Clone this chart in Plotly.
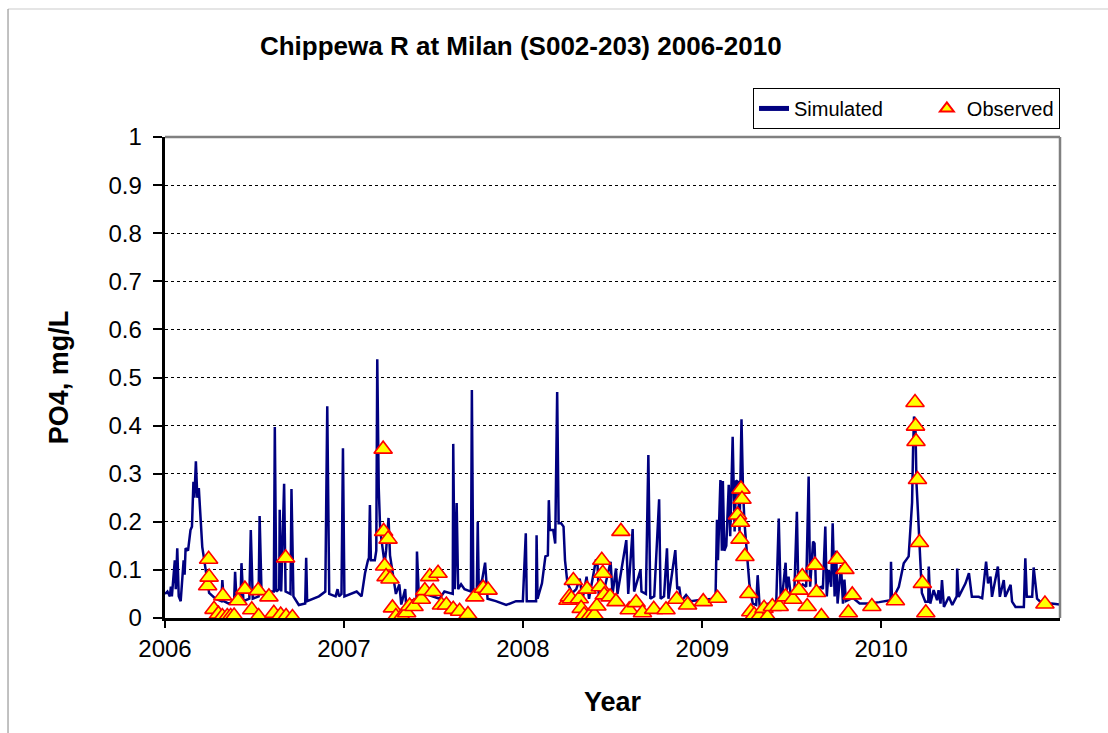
import plotly.graph_objects as go

# ---------------- data ----------------
sim_dates = [
    "2006-01-01","2006-01-06","2006-01-11","2006-01-13","2006-01-15","2006-01-21","2006-01-23","2006-01-26",
    "2006-01-29","2006-02-02","2006-02-08","2006-02-10","2006-02-12","2006-02-17","2006-02-22","2006-02-25",
    "2006-02-28","2006-03-02","2006-03-05","2006-03-08","2006-03-11","2006-03-15","2006-03-18","2006-03-25",
    "2006-04-01","2006-04-14","2006-04-26","2006-04-28","2006-05-01","2006-05-11","2006-05-22","2006-05-24",
    "2006-05-27","2006-06-04","2006-06-06","2006-06-10","2006-06-22","2006-06-25","2006-06-29","2006-07-11",
    "2006-07-13","2006-07-17","2006-08-04","2006-08-11","2006-08-13","2006-08-16","2006-08-22","2006-08-23",
    "2006-08-26","2006-09-01","2006-09-04","2006-09-14","2006-09-16","2006-09-20","2006-10-01","2006-10-14",
    "2006-10-16","2006-10-18","2006-11-11","2006-11-24","2006-11-28","2006-12-02","2006-12-15","2006-12-19",
    "2006-12-22","2006-12-27","2006-12-30","2007-01-02",
    "2007-01-13","2007-01-27","2007-02-06","2007-02-13","2007-02-19","2007-02-21","2007-02-23","2007-02-25",
    "2007-03-05","2007-03-08","2007-03-10","2007-03-13","2007-03-16","2007-03-20","2007-03-25","2007-03-28",
    "2007-04-02","2007-04-05","2007-04-11","2007-04-17","2007-04-24","2007-04-28","2007-05-06","2007-05-08",
    "2007-05-18","2007-05-29","2007-05-30","2007-06-03","2007-06-17","2007-07-01","2007-07-15","2007-07-25",
    "2007-08-11","2007-08-12","2007-08-15","2007-08-19","2007-08-22","2007-08-28","2007-09-04","2007-09-17",
    "2007-09-19","2007-09-22","2007-09-29","2007-10-01","2007-10-03","2007-10-10","2007-10-16","2007-10-21",
    "2007-11-07","2007-11-28","2007-12-18","2008-01-01",
    "2008-01-07","2008-01-09","2008-01-28","2008-01-29","2008-01-31","2008-02-09","2008-02-16","2008-02-21",
    "2008-02-23","2008-02-25","2008-03-03","2008-03-07","2008-03-11","2008-03-14","2008-03-19","2008-03-24",
    "2008-03-27","2008-04-01","2008-04-11","2008-04-19","2008-04-26","2008-05-02","2008-05-10","2008-05-15",
    "2008-05-29","2008-06-01","2008-06-04","2008-06-13","2008-06-28","2008-07-02","2008-07-09","2008-07-12",
    "2008-07-30","2008-08-03","2008-08-12","2008-08-15","2008-08-28","2008-08-30","2008-09-08","2008-09-13",
    "2008-09-17","2008-09-25","2008-10-05","2008-10-08","2008-10-15","2008-10-21","2008-10-24","2008-11-07",
    "2008-11-11","2008-11-15","2008-11-19","2008-11-29","2008-12-09","2008-12-30",
    "2009-01-16","2009-01-28","2009-01-31","2009-02-02","2009-02-07","2009-02-10","2009-02-12","2009-02-15",
    "2009-02-19","2009-02-24","2009-02-27","2009-03-04","2009-03-08","2009-03-11","2009-03-15","2009-03-18",
    "2009-03-22","2009-03-25","2009-03-28","2009-04-02","2009-04-07","2009-04-14","2009-04-21","2009-04-24",
    "2009-04-28","2009-05-18","2009-06-01","2009-06-06","2009-06-10","2009-06-14","2009-06-20","2009-06-22",
    "2009-06-26","2009-07-01","2009-07-08","2009-07-13","2009-07-16","2009-07-25","2009-08-01","2009-08-06",
    "2009-08-09","2009-08-15","2009-08-18","2009-08-21","2009-09-01","2009-09-04","2009-09-09","2009-09-12",
    "2009-09-16","2009-09-21","2009-09-24","2009-09-28","2009-10-01","2009-10-04","2009-10-11","2009-10-15",
    "2009-10-18","2009-10-21","2009-11-04","2009-11-18","2009-12-08","2009-12-28",
    "2010-01-16","2010-01-20","2010-01-21","2010-01-23","2010-02-06","2010-02-16","2010-02-26","2010-03-03",
    "2010-03-05","2010-03-07","2010-03-09","2010-03-12","2010-03-14","2010-03-17","2010-03-20","2010-03-22",
    "2010-03-25","2010-04-01","2010-04-07","2010-04-08","2010-04-11","2010-04-18","2010-04-25","2010-04-28",
    "2010-05-02","2010-05-05","2010-05-09","2010-05-19","2010-05-26","2010-06-04","2010-06-05","2010-06-08",
    "2010-06-15","2010-06-22","2010-06-29","2010-07-05","2010-07-19","2010-07-26","2010-08-03","2010-08-07",
    "2010-08-12","2010-08-15","2010-08-27","2010-08-31","2010-09-08","2010-09-11","2010-09-22","2010-09-25",
    "2010-10-02","2010-10-19","2010-10-22","2010-10-25","2010-11-05","2010-11-08","2010-11-15","2010-11-28",
    "2010-12-15","2010-12-31",
]
sim_values = [
    0.050,0.055,0.045,0.065,0.045,0.120,0.060,0.145,
    0.045,0.035,0.120,0.090,0.145,0.140,0.183,0.190,
    0.283,0.250,0.326,0.250,0.270,0.197,0.148,0.100,
    0.052,0.040,0.035,0.079,0.035,0.030,0.035,0.096,
    0.035,0.035,0.114,0.035,0.040,0.183,0.040,0.045,
    0.212,0.050,0.055,0.055,0.397,0.055,0.060,0.225,
    0.055,0.279,0.055,0.050,0.268,0.045,0.027,0.030,
    0.125,0.035,0.045,0.055,0.440,0.050,0.045,0.060,
    0.045,0.050,0.353,0.045,
    0.050,0.055,0.045,0.093,0.120,0.125,0.235,0.120,
    0.120,0.140,0.538,0.270,0.183,0.155,0.113,0.140,
    0.208,0.130,0.090,0.050,0.070,0.028,0.060,0.025,
    0.035,0.040,0.138,0.040,0.050,0.045,0.040,0.055,
    0.050,0.362,0.060,0.239,0.060,0.070,0.060,0.055,
    0.474,0.050,0.050,0.200,0.065,0.080,0.115,0.040,
    0.035,0.027,0.035,0.035,
    0.176,0.035,0.035,0.172,0.040,0.072,0.128,0.130,
    0.245,0.183,0.183,0.155,0.470,0.197,0.197,0.190,
    0.120,0.072,0.052,0.060,0.082,0.040,0.086,0.040,
    0.120,0.120,0.045,0.050,0.117,0.050,0.103,0.050,
    0.162,0.050,0.185,0.055,0.100,0.055,0.050,0.339,
    0.040,0.045,0.247,0.040,0.045,0.145,0.040,0.141,
    0.060,0.065,0.035,0.048,0.035,0.038,
    0.040,0.040,0.204,0.120,0.287,0.140,0.285,0.140,
    0.150,0.277,0.170,0.377,0.180,0.286,0.283,0.180,
    0.413,0.270,0.200,0.128,0.072,0.030,0.027,0.089,
    0.025,0.030,0.035,0.207,0.045,0.055,0.115,0.055,
    0.086,0.045,0.060,0.221,0.060,0.070,0.065,0.294,
    0.065,0.159,0.155,0.060,0.065,0.060,0.190,0.045,
    0.100,0.065,0.197,0.045,0.140,0.030,0.110,0.030,
    0.080,0.035,0.042,0.030,0.030,0.033,
    0.037,0.037,0.117,0.037,0.065,0.114,0.128,0.225,
    0.240,0.349,0.419,0.390,0.280,0.220,0.148,0.114,
    0.052,0.034,0.034,0.107,0.030,0.058,0.037,0.058,
    0.030,0.079,0.023,0.044,0.027,0.045,0.103,0.044,
    0.058,0.072,0.093,0.044,0.044,0.041,0.117,0.072,
    0.086,0.044,0.107,0.044,0.079,0.044,0.069,0.034,
    0.023,0.023,0.124,0.044,0.044,0.105,0.040,0.027,
    0.030,0.028,
]

obs_dates = [
    "2006-03-29","2006-03-31","2006-04-01","2006-04-11","2006-04-20","2006-04-28","2006-04-29","2006-05-08",
    "2006-05-15","2006-05-22","2006-05-30","2006-06-13","2006-06-27","2006-07-10","2006-07-11","2006-08-01",
    "2006-08-11","2006-08-25","2006-09-04","2006-09-05","2006-09-18",
    "2007-03-22","2007-03-23","2007-03-25","2007-03-28","2007-04-01","2007-04-05","2007-04-10","2007-04-17",
    "2007-04-29","2007-05-09","2007-05-15","2007-05-24","2007-06-08","2007-06-15","2007-06-25","2007-07-02",
    "2007-07-12","2007-07-19","2007-07-29","2007-08-12","2007-08-25","2007-09-11","2007-09-25","2007-10-12",
    "2007-10-22",
    "2008-04-02","2008-04-05","2008-04-09","2008-04-13","2008-04-25","2008-04-29","2008-05-05","2008-05-11",
    "2008-05-15","2008-05-26","2008-05-31","2008-06-07","2008-06-10","2008-06-12","2008-06-15","2008-06-27",
    "2008-07-09","2008-07-19","2008-08-05","2008-08-19","2008-09-01","2008-09-24","2008-10-19","2008-11-10",
    "2008-12-02",
    "2009-01-03","2009-02-01","2009-03-14","2009-03-19","2009-03-20","2009-03-21","2009-03-23","2009-03-29",
    "2009-04-06","2009-04-10","2009-04-17","2009-04-27","2009-05-07","2009-05-14","2009-05-24","2009-06-07",
    "2009-06-20","2009-07-05","2009-07-17","2009-07-24","2009-08-03","2009-08-19","2009-08-22","2009-09-01",
    "2009-10-03","2009-10-19","2009-10-26","2009-11-03","2009-12-13",
    "2010-01-30","2010-03-11","2010-03-12","2010-03-13","2010-03-16","2010-03-20","2010-03-26","2010-04-02",
    "2010-12-01",
]
obs_values = [
    0.067,0.122,0.085,0.018,0.008,0.003,0.046,0.003,
    0.003,0.004,0.036,0.060,0.017,0.057,0.003,0.044,
    0.010,0.006,0.125,0.003,0.001,
    0.351,0.180,0.108,0.086,0.164,0.081,0.021,0.003,
    0.003,0.011,0.025,0.024,0.039,0.057,0.086,0.055,
    0.093,0.027,0.027,0.018,0.014,0.007,0.044,0.062,
    0.058,
    0.037,0.044,0.040,0.078,0.040,0.020,0.006,0.060,
    0.003,0.006,0.025,0.065,0.120,0.093,0.048,0.044,
    0.034,0.180,0.017,0.032,0.011,0.018,0.017,0.039,
    0.027,
    0.034,0.041,0.214,0.164,0.199,0.268,0.247,0.128,
    0.051,0.013,0.006,0.003,0.020,0.002,0.024,0.024,
    0.044,0.039,0.058,0.086,0.024,0.110,0.053,0.003,
    0.122,0.101,0.011,0.048,0.024,
    0.036,0.448,0.399,0.367,0.288,0.157,0.072,0.011,
    0.029,
]

year_ticks = ["2006-01-01", "2007-01-01", "2008-01-01", "2009-01-01", "2010-01-01"]
year_labels = ["2006", "2007", "2008", "2009", "2010"]
y_ticks = [0, 0.1, 0.2, 0.3, 0.4, 0.5, 0.6, 0.7, 0.8, 0.9, 1.0]
y_labels = ["0", "0.1", "0.2", "0.3", "0.4", "0.5", "0.6", "0.7", "0.8", "0.9", "1"]

title_text = "Chippewa R at Milan (S002-203) 2006-2010"
series_names = ["Simulated", "Observed"]

# ---------------- figure ----------------
FONT = "Arial, 'Liberation Sans', sans-serif"
NBSP = "\u00a0"

fig = go.Figure()
fig.add_trace(go.Scatter(
    x=sim_dates, y=sim_values, mode="lines", name=series_names[0] + NBSP * 7,
    line=dict(color="#000080", width=2.5),
))
fig.add_trace(go.Scatter(
    x=obs_dates, y=obs_values, mode="markers", name=series_names[1],
    marker=dict(symbol="triangle-up", size=16, color="#FFFF00",
                line=dict(color="#FF0000", width=1.6)),
))

fig.update_layout(
    width=1108, height=733,
    paper_bgcolor="white", plot_bgcolor="white",
    margin=dict(l=165, r=48, t=137, b=115, autoexpand=False),
    font=dict(family=FONT, color="black", size=20),
    title=dict(text="<b>" + title_text + "</b>", x=0.470, xanchor="center",
               y=0.937, yanchor="middle", font=dict(family=FONT, size=26, color="black")),
    showlegend=True,
    legend=dict(orientation="h", x=0.657, xanchor="left", y=1.102, yanchor="top",
                bgcolor="white", bordercolor="black", borderwidth=1,
                font=dict(family=FONT, size=20, color="black"),
                itemsizing="constant", traceorder="normal"),
    xaxis=dict(
        type="date", range=["2006-01-01", "2010-12-31 18:00"],
        tickvals=year_ticks, ticktext=year_labels,
        showgrid=False, zeroline=False, automargin=False,
        showline=True, linecolor="black", linewidth=2.5,
        ticks="outside", ticklen=7, tickwidth=1.5, tickcolor="black",
        tickfont=dict(family=FONT, size=24, color="black"),
        title=dict(text="<b>Year</b>", font=dict(family=FONT, size=27, color="black"), standoff=32),
    ),
    yaxis=dict(
        range=[0, 1], tickvals=y_ticks, ticktext=[t + NBSP for t in y_labels],
        showgrid=True, gridcolor="black", gridwidth=1, griddash="dot",
        zeroline=False, automargin=False,
        showline=True, linecolor="black", linewidth=2.5,
        ticks="outside", ticklen=9, tickwidth=1.5, tickcolor="black",
        tickfont=dict(family=FONT, size=24, color="black"),
        title=dict(text="<b>PO4, mg/L</b>", font=dict(family=FONT, size=27, color="black"), standoff=32),
    ),
)

# plot-area frame (top and right in grey), and outer page frame lines
fig.add_shape(type="line", xref="paper", yref="paper", x0=0, x1=1, y0=1, y1=1,
              line=dict(color="#808080", width=2.5), layer="above")
fig.add_shape(type="line", xref="paper", yref="paper", x0=1, x1=1, y0=0, y1=1,
              line=dict(color="#808080", width=2.5), layer="above")
fig.add_shape(type="line", xref="paper", yref="paper", x0=-0.1754, x1=1.06, y0=1.266, y1=1.266,
              line=dict(color="#DDDDDD", width=1.5), layer="below")
fig.add_shape(type="line", xref="paper", yref="paper", x0=-0.1754, x1=-0.1754, y0=1.266, y1=-0.25,
              line=dict(color="#999999", width=1.2), layer="below")

fig.write_html("out.html", config={"displayModeBar": False},
               post_script="document.body.style.margin='0';")
